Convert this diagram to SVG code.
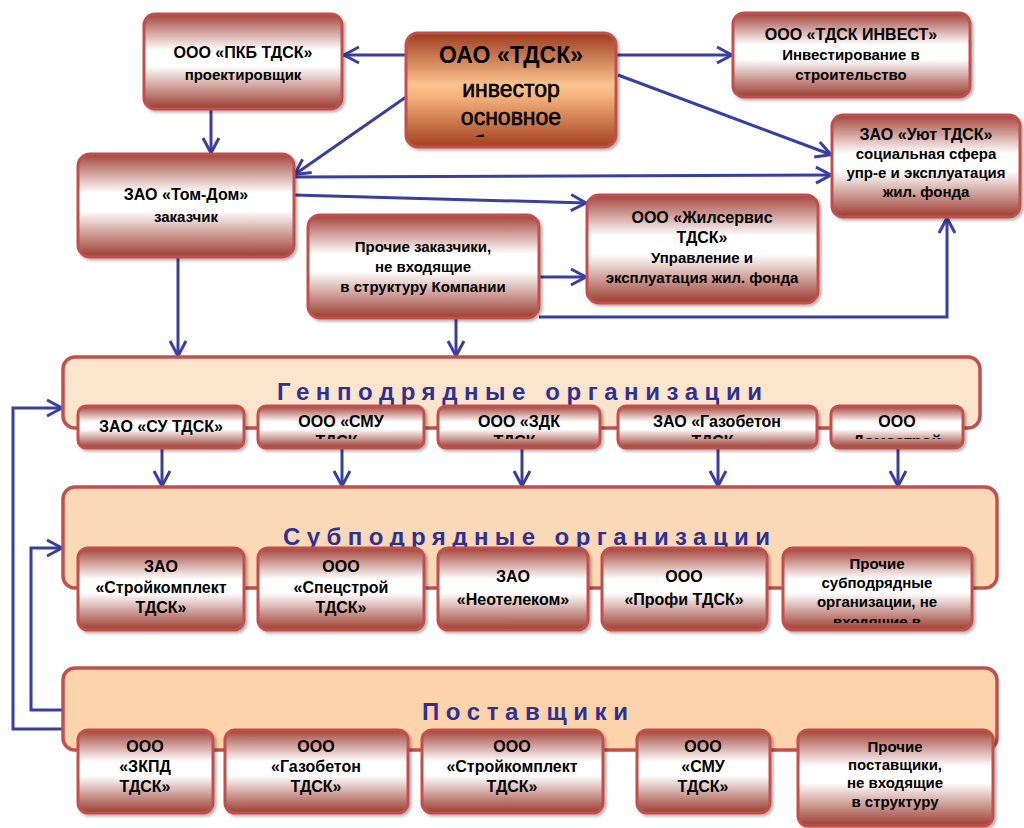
<svg xmlns="http://www.w3.org/2000/svg" width="1024" height="828" viewBox="0 0 1024 828">
<defs>
<linearGradient id="g" x1="0" y1="0" x2="0" y2="1">
<stop offset="0" stop-color="#A3443A"/>
<stop offset="0.38" stop-color="#FFFFFF"/>
<stop offset="0.55" stop-color="#FFFFFF"/>
<stop offset="1" stop-color="#9C3B2E"/>
</linearGradient>
<linearGradient id="go" x1="0" y1="0" x2="0" y2="1">
<stop offset="0" stop-color="#9E3C1E"/>
<stop offset="0.45" stop-color="#FBC38E"/>
<stop offset="0.55" stop-color="#F6B47E"/>
<stop offset="1" stop-color="#A3401F"/>
</linearGradient>
<filter id="sh" x="-10%" y="-10%" width="125%" height="130%">
<feDropShadow dx="2" dy="2" stdDeviation="1.5" flood-color="#000" flood-opacity="0.3"/>
</filter>
<marker id="ah" markerUnits="userSpaceOnUse" viewBox="-18 -10 22 20" markerWidth="22" markerHeight="20" refX="1" refY="0" orient="auto">
<path d="M-15,-8 L0,0 L-15,8" fill="none" stroke="#3A3E9F" stroke-width="3"/>
</marker>
<clipPath id="cOAO"><rect x="406" y="33" width="210" height="104"/></clipPath>
<clipPath id="cG2"><rect x="258" y="406" width="166" height="33"/></clipPath>
<clipPath id="cG3"><rect x="438" y="406" width="162" height="33"/></clipPath>
<clipPath id="cG4"><rect x="618" y="406" width="199" height="33"/></clipPath>
<clipPath id="cG5"><rect x="831" y="406" width="132" height="33"/></clipPath>
<clipPath id="cS5"><rect x="783" y="548" width="189" height="75"/></clipPath>
</defs>
<style>
.n rect{fill:url(#g);stroke:#C0504D;stroke-width:3;filter:url(#sh)}
.p{stroke:#C0504D;stroke-width:3.5}
.t{font-family:"Liberation Sans",Arial,sans-serif;font-weight:bold;font-size:16px;fill:#000;text-anchor:middle}
.s{font-family:"Liberation Sans",Arial,sans-serif;font-weight:bold;font-size:15px;fill:#000;text-anchor:middle}
.h{font-family:"Liberation Sans",Arial,sans-serif;font-weight:bold;font-size:24px;fill:#2E3192}
.c{fill:none;stroke:#3A3E9F;stroke-width:3;marker-end:url(#ah)}
</style>
<rect width="1024" height="828" fill="#FFFFFF"/>

<g id="connectors">
<path class="c" d="M406,55 L343,55"/>
<path class="c" d="M616,55 L733,55"/>
<path class="c" d="M618,75 L832,155"/>
<path class="c" d="M406,97 L294,175"/>
<path class="c" d="M211,110 L211,154"/>
<path class="c" d="M294,177 L832,175"/>
<path class="c" d="M294,195 L587,203"/>
<path class="c" d="M539,277 L587,277"/>
<path class="c" d="M539,317 L947,317 L947,217"/>
<path class="c" d="M178,257 L178,357"/>
<path class="c" d="M456,318 L456,357"/>
<path class="c" d="M162,448 L162,487"/>
<path class="c" d="M342,448 L342,487"/>
<path class="c" d="M522,448 L522,487"/>
<path class="c" d="M718,448 L718,487"/>
<path class="c" d="M898,448 L898,487"/>
<path class="c" d="M63,729 L13,729 L13,408 L63,408"/>
<path class="c" d="M63,710 L31,710 L31,548 L63,548"/>
</g>

<g id="pkb" class="n">
<rect x="144" y="14" width="198" height="95" rx="11"/>
<text class="t" x="243" y="58">ООО «ПКБ ТДСК»</text>
<text class="s" x="243" y="80">проектировщик</text>
</g>

<g id="oao">
<rect x="406" y="33" width="210" height="114" rx="12" fill="url(#go)" stroke="#C0504D" stroke-width="3" filter="url(#sh)"/>
<g clip-path="url(#cOAO)">
<text class="t" x="511" y="63" style="font-size:23px">ОАО «ТДСК»</text>
<text class="t" x="511" y="97" style="font-size:23px;font-weight:normal;stroke:#000;stroke-width:0.6">инвестор</text>
<text class="t" x="511" y="125" style="font-size:23px;font-weight:normal;stroke:#000;stroke-width:0.6">основное</text>
<text class="t" x="511" y="153" style="font-size:23px;font-weight:normal;stroke:#000;stroke-width:0.6">общество</text>
</g>
</g>

<g id="invest" class="n">
<rect x="733" y="13" width="237" height="84" rx="11"/>
<text class="t" x="851" y="40">ООО «ТДСК ИНВЕСТ»</text>
<text class="s" x="851" y="60">Инвестирование в</text>
<text class="s" x="851" y="80">строительство</text>
</g>

<g id="uyut" class="n">
<rect x="832" y="115" width="188" height="102" rx="11"/>
<text class="t" x="926" y="140">ЗАО «Уют ТДСК»</text>
<text class="s" x="926" y="159">социальная сфера</text>
<text class="s" x="926" y="178">упр-е и эксплуатация</text>
<text class="s" x="926" y="197">жил. фонда</text>
</g>

<g id="tomdom" class="n">
<rect x="78" y="154" width="216" height="103" rx="12"/>
<text class="t" x="186" y="200">ЗАО «Том-Дом»</text>
<text class="s" x="186" y="222">заказчик</text>
</g>

<g id="prochie-zak" class="n">
<rect x="308" y="215" width="231" height="103" rx="12"/>
<text class="s" x="423" y="252">Прочие заказчики,</text>
<text class="s" x="423" y="272">не входящие</text>
<text class="s" x="423" y="292">в структуру Компании</text>
</g>

<g id="zhilservis" class="n">
<rect x="587" y="195" width="231" height="108" rx="12"/>
<text class="t" x="702" y="223">ООО «Жилсервис</text>
<text class="t" x="702" y="243">ТДСК»</text>
<text class="s" x="702" y="263">Управление и</text>
<text class="s" x="702" y="283">эксплуатация жил. фонда</text>
</g>

<g id="genpodr">
<rect class="p" x="63" y="357" width="917" height="71" rx="12" fill="#FDE5CD"/>
<text class="h" x="277" y="400" textLength="485" lengthAdjust="spacing">Генподрядные организации</text>
</g>
<g id="g-su" class="n">
<rect x="78" y="406" width="166" height="42" rx="8"/>
<text class="t" x="161" y="432">ЗАО «СУ ТДСК»</text>
</g>
<g id="g-smu" class="n">
<rect x="258" y="406" width="166" height="42" rx="8"/>
<g clip-path="url(#cG2)"><text class="t" x="341" y="427">ООО «СМУ</text><text class="t" x="341" y="447">ТДСК»</text></g>
</g>
<g id="g-zdk" class="n">
<rect x="438" y="406" width="162" height="42" rx="8"/>
<g clip-path="url(#cG3)"><text class="t" x="519" y="427">ООО «ЗДК</text><text class="t" x="519" y="447">ТДСК»</text></g>
</g>
<g id="g-gazobeton" class="n">
<rect x="618" y="406" width="199" height="42" rx="8"/>
<g clip-path="url(#cG4)"><text class="t" x="717" y="427">ЗАО «Газобетон</text><text class="t" x="717" y="447">ТДСК»</text></g>
</g>
<g id="g-ooo" class="n">
<rect x="831" y="406" width="132" height="42" rx="8"/>
<g clip-path="url(#cG5)"><text class="t" x="897" y="427">ООО</text><text class="t" x="897" y="447">«Домострой»</text></g>
</g>

<g id="subpodr">
<rect class="p" x="63" y="487" width="934" height="101" rx="12" fill="#FCD9B6"/>
<text class="h" x="283" y="545" textLength="487" lengthAdjust="spacing">Субподрядные организации</text>
</g>
<g id="s-stroykomplekt" class="n">
<rect x="78" y="548" width="166" height="82" rx="10"/>
<text class="t" x="161" y="572">ЗАО</text>
<text class="t" x="161" y="593">«Стройкомплект</text>
<text class="t" x="161" y="613">ТДСК»</text>
</g>
<g id="s-spetsstroy" class="n">
<rect x="258" y="548" width="166" height="82" rx="10"/>
<text class="t" x="341" y="572">ООО</text>
<text class="t" x="341" y="593">«Спецстрой</text>
<text class="t" x="341" y="613">ТДСК»</text>
</g>
<g id="s-neotelekom" class="n">
<rect x="438" y="548" width="150" height="82" rx="10"/>
<text class="t" x="513" y="582">ЗАО</text>
<text class="t" x="513" y="605">«Неотелеком»</text>
</g>
<g id="s-profi" class="n">
<rect x="602" y="548" width="165" height="82" rx="10"/>
<text class="t" x="684" y="582">ООО</text>
<text class="t" x="684" y="605">«Профи ТДСК»</text>
</g>
<g id="s-prochie" class="n">
<rect x="783" y="548" width="189" height="82" rx="10"/>
<g clip-path="url(#cS5)">
<text class="s" x="877" y="569">Прочие</text>
<text class="s" x="877" y="588">субподрядные</text>
<text class="s" x="877" y="607">организации, не</text>
<text class="s" x="877" y="627">входящие в</text>
</g>
</g>

<g id="postavshiki">
<rect class="p" x="63" y="668" width="934" height="82" rx="12" fill="#FCD3AA"/>
<text class="h" x="422" y="720" textLength="206" lengthAdjust="spacing">Поставщики</text>
</g>
<g id="p-zkpd" class="n">
<rect x="78" y="730" width="135" height="83" rx="10"/>
<text class="t" x="145" y="752">ООО</text>
<text class="t" x="145" y="772">«ЗКПД</text>
<text class="t" x="145" y="792">ТДСК»</text>
</g>
<g id="p-gazobeton" class="n">
<rect x="225" y="730" width="183" height="83" rx="10"/>
<text class="t" x="316" y="752">ООО</text>
<text class="t" x="316" y="772">«Газобетон</text>
<text class="t" x="316" y="792">ТДСК»</text>
</g>
<g id="p-stroykomplekt" class="n">
<rect x="422" y="730" width="181" height="83" rx="10"/>
<text class="t" x="512" y="752">ООО</text>
<text class="t" x="512" y="772">«Стройкомплект</text>
<text class="t" x="512" y="792">ТДСК»</text>
</g>
<g id="p-smu" class="n">
<rect x="637" y="730" width="133" height="83" rx="10"/>
<text class="t" x="703" y="752">ООО</text>
<text class="t" x="703" y="772">«СМУ</text>
<text class="t" x="703" y="792">ТДСК»</text>
</g>
<g id="p-prochie" class="n">
<rect x="798" y="730" width="195" height="96" rx="10"/>
<text class="s" x="895" y="752">Прочие</text>
<text class="s" x="895" y="770">поставщики,</text>
<text class="s" x="895" y="788">не входящие</text>
<text class="s" x="895" y="807">в структуру</text>
</g>
</svg>
